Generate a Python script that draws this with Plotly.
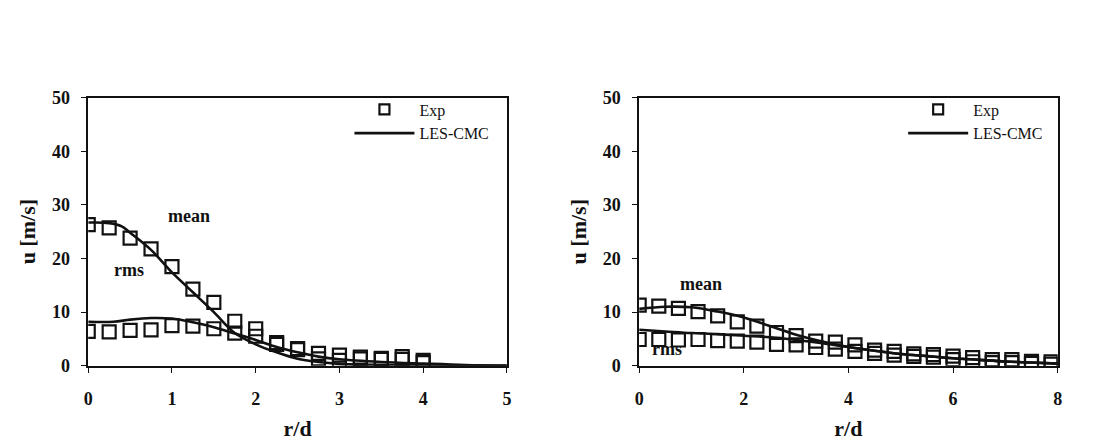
import plotly.graph_objects as go

# ---------------- data ----------------
# Left panel (r/d 0..5)
left_exp_x = [0, 0.25, 0.5, 0.75, 1.0, 1.25, 1.5, 1.75, 2.0, 2.25, 2.5, 2.75, 3.0, 3.25, 3.5, 3.75, 4.0]
left_exp_mean = [26.3, 25.7, 23.8, 21.8, 18.5, 14.3, 11.8, 8.3, 6.9, 4.3, 3.2, 2.3, 2.0, 1.6, 1.4, 1.7, 1.0]
left_exp_rms = [6.4, 6.3, 6.6, 6.7, 7.5, 7.4, 6.9, 6.1, 5.5, 4.0, 3.0, 1.3, 1.0, 1.3, 1.2, 1.2, 0.6]

left_les_mean_x = [0, 0.25, 0.4, 0.5, 0.75, 1.0, 1.25, 1.5, 1.75, 2.0, 2.25, 2.5, 2.75, 3.0, 3.5, 4.0, 4.5, 5.0]
left_les_mean = [26.7, 26.6, 26.0, 24.8, 21.6, 17.4, 13.7, 10.0, 6.1, 4.0, 2.5, 1.3, 0.7, 0.35, 0.15, 0.08, 0.03, 0.0]
left_les_rms_x = [0, 0.3, 0.5, 0.75, 1.0, 1.25, 1.5, 1.75, 2.0, 2.25, 2.5, 2.75, 3.0, 3.5, 4.0, 4.5, 5.0]
left_les_rms = [8.2, 8.2, 8.6, 8.9, 8.8, 8.1, 7.2, 6.0, 4.8, 3.5, 2.5, 1.7, 1.2, 0.7, 0.4, 0.15, 0.05]

# Right panel (r/d 0..8)
right_exp_x = [0, 0.375, 0.75, 1.125, 1.5, 1.875, 2.25, 2.625, 3.0, 3.375, 3.75,
               4.125, 4.5, 4.875, 5.25, 5.625, 6.0, 6.375, 6.75, 7.125, 7.5, 7.875]
right_exp_mean = [11.3, 11.1, 10.7, 10.1, 9.3, 8.2, 7.4, 6.2, 5.6, 4.6, 4.4,
                  3.9, 2.9, 2.7, 2.2, 2.1, 1.8, 1.5, 1.15, 1.15, 0.8, 0.75]
right_exp_rms = [4.9, 4.9, 4.8, 4.9, 4.7, 4.6, 4.4, 4.0, 3.9, 3.4, 3.1,
                 2.7, 2.3, 2.0, 1.75, 1.6, 1.15, 0.75, 0.6, 0.6, 0.45, 0.3]

right_les_x = [0, 0.5, 1, 1.5, 2, 2.5, 3, 3.5, 4, 4.5, 5, 5.5, 6, 6.5, 7, 7.5, 8]
right_les_mean = [10.6, 11.0, 10.9, 10.1, 9.0, 7.4, 5.8, 4.5, 3.5, 2.8, 2.2, 1.8, 1.4, 1.1, 0.8, 0.6, 0.4]
right_les_rms = [6.7, 6.4, 6.1, 5.9, 5.6, 5.3, 4.8, 4.2, 3.5, 2.8, 2.2, 1.8, 1.4, 1.1, 0.8, 0.6, 0.4]

x_ticks_left = [0, 1, 2, 3, 4, 5]
x_ticks_right = [0, 2, 4, 6, 8]
y_ticks = [0, 10, 20, 30, 40, 50]

# ---------------- styling ----------------
FONT = "Liberation Serif"
BLACK = "#111111"
sq = dict(symbol="square-open", size=13, color=BLACK, line=dict(width=2.2, color=BLACK))
ln = dict(color=BLACK, width=2.6)

fig = go.Figure()

def add_panel(xa, ya, legend, ex, em, er, lmx, lm, lrx, lr):
    fig.add_trace(go.Scatter(x=ex, y=em, mode="markers", marker=sq, xaxis=xa, yaxis=ya, showlegend=False))
    fig.add_trace(go.Scatter(x=ex, y=er, mode="markers", marker=sq, xaxis=xa, yaxis=ya, showlegend=False))
    fig.add_trace(go.Scatter(x=lmx, y=lm, mode="lines", line=ln, line_shape="spline",
                             xaxis=xa, yaxis=ya, showlegend=False))
    fig.add_trace(go.Scatter(x=lrx, y=lr, mode="lines", line=ln, line_shape="spline",
                             xaxis=xa, yaxis=ya, showlegend=False))
    # legend entries
    fig.add_trace(go.Scatter(x=[None], y=[None], mode="markers", name="Exp",
                             marker=dict(symbol="square-open", size=10, color=BLACK, line=dict(width=2.2, color=BLACK)),
                             xaxis=xa, yaxis=ya, legend=legend))
    fig.add_trace(go.Scatter(x=[None], y=[None], mode="lines", name="LES-CMC", line=ln,
                             xaxis=xa, yaxis=ya, legend=legend))

add_panel("x", "y", "legend", left_exp_x, left_exp_mean, left_exp_rms,
          left_les_mean_x, left_les_mean, left_les_rms_x, left_les_rms)
add_panel("x2", "y2", "legend2", right_exp_x, right_exp_mean, right_exp_rms,
          right_les_x, right_les_mean, right_les_x, right_les_rms)

W, H = 1100, 445
yd = [1 - 372.5 / H, 1 - 91.7 / H]
xd1 = [84 / W, 506.5 / W]
xd2 = [640 / W, 1062.3 / W]

tickfont = dict(family=FONT, size=18, color=BLACK, weight="bold")
titlefont = dict(family=FONT, size=22, color=BLACK, weight="bold")

def xaxis(dom, rng, ticks, anchor):
    return dict(domain=dom, range=rng, tickvals=ticks, ticktext=[str(t) for t in ticks],
                showgrid=False, zeroline=False, showline=True, linecolor=BLACK, linewidth=1.5,
                mirror=True, ticks="outside", ticklen=5, tickcolor=BLACK, tickwidth=1,
                tickfont=tickfont, ticklabelstandoff=11, anchor=anchor,
                title=dict(text="r/d", font=titlefont, standoff=12))

def yaxis(anchor):
    return dict(domain=yd, range=[0, 50], tickvals=y_ticks, ticktext=[str(t) for t in y_ticks],
                showgrid=False, zeroline=False, showline=True, linecolor=BLACK, linewidth=1.5,
                mirror=True, ticks="outside", ticklen=5, tickcolor=BLACK, tickwidth=1,
                tickfont=tickfont, ticklabelstandoff=8, anchor=anchor,
                title=dict(text="u [m/s]", font=titlefont, standoff=10))

fig.update_layout(
    width=W, height=H,
    margin=dict(l=0, r=0, t=0, b=0),
    paper_bgcolor="white", plot_bgcolor="white",
    font=dict(family=FONT, color=BLACK),
    xaxis=xaxis(xd1, [0, 5], x_ticks_left, "y"),
    yaxis=yaxis("x"),
    xaxis2=xaxis(xd2, [0, 8], x_ticks_right, "y2"),
    yaxis2=yaxis("x2"),
    legend=dict(x=0.316, y=0.806, xanchor="left", yanchor="top", bgcolor="rgba(0,0,0,0)",
                font=dict(family=FONT, size=16, color=BLACK), itemwidth=60, tracegroupgap=0),
    legend2=dict(x=0.824, y=0.806, xanchor="left", yanchor="top", bgcolor="rgba(0,0,0,0)",
                 font=dict(family=FONT, size=16, color=BLACK), itemwidth=60, tracegroupgap=0),
    annotations=[
        dict(text="<b>mean</b>", x=1.2, y=28.0, xref="x", yref="y", showarrow=False,
             font=dict(family=FONT, size=18, color=BLACK)),
        dict(text="<b>rms</b>", x=0.49, y=17.9, xref="x", yref="y", showarrow=False,
             font=dict(family=FONT, size=18, color=BLACK)),
        dict(text="<b>mean</b>", x=1.19, y=15.2, xref="x2", yref="y2", showarrow=False,
             font=dict(family=FONT, size=18, color=BLACK)),
        dict(text="<b>rms</b>", x=0.53, y=3.1, xref="x2", yref="y2", showarrow=False,
             font=dict(family=FONT, size=18, color=BLACK)),
    ],
)

fig.write_html("out.html")
